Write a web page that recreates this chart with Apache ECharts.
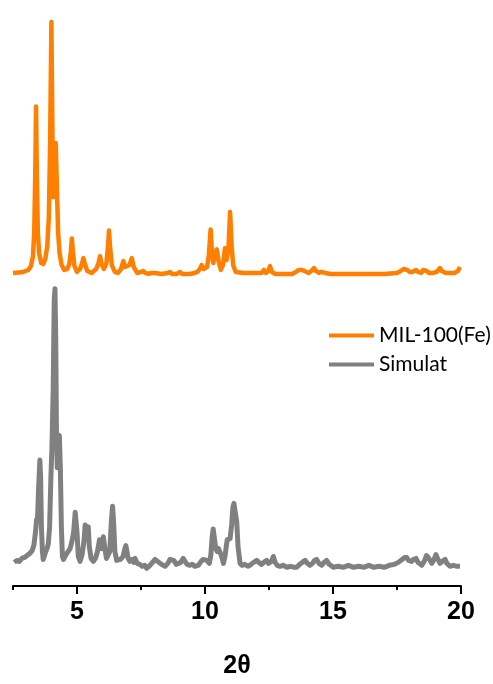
<!DOCTYPE html>
<html>
<head>
<meta charset="utf-8">
<script src="https://cdn.jsdelivr.net/npm/echarts@6/dist/echarts.min.js"></script>
<style>
html,body{margin:0;padding:0;background:#fff;}
#chart{width:493px;height:684px;}
</style>
</head>
<body>
<div id="chart"></div>
<script>
// ---- Data ----
const seriesNames = ["MIL-100(Fe)", "Simulat"];
const xTickLabels = [5, 10, 15, 20];
const xMinorTicks = [2.5, 7.5, 12.5, 17.5];
const ORANGE_OFFSET = 300;

const milX = [2.5,2.9,3.1,3.2,3.28,3.33,3.37,3.40,3.43,3.47,3.52,3.6,3.68,3.76,3.84,3.9,3.95,4.0,4.04,4.07,4.12,4.17,4.21,4.26,4.32,4.4,4.5,4.62,4.7,4.76,4.80,4.84,4.9,5.0,5.12,5.2,5.25,5.3,5.4,5.57,5.75,5.84,5.90,5.96,6.05,6.15,6.21,6.25,6.29,6.36,6.48,6.6,6.72,6.81,6.88,6.94,7.05,7.14,7.22,7.35,7.5,7.58,7.66,7.8,7.9,7.97,8.05,8.3,8.55,8.63,8.71,8.9,9.02,9.1,9.4,9.6,9.7,9.8,9.87,9.95,10.08,10.15,10.22,10.27,10.32,10.38,10.46,10.53,10.62,10.7,10.78,10.84,10.87,10.92,10.98,11.04,11.1,11.2,11.5,11.75,11.82,11.9,12.2,12.3,12.38,12.47,12.54,12.61,12.75,13.0,13.4,13.55,13.65,13.71,13.78,13.88,13.95,14.05,14.15,14.26,14.33,14.45,14.55,14.61,14.7,14.9,15.5,16.2,17.0,17.5,17.65,17.76,17.81,17.9,18.0,18.1,18.24,18.32,18.45,18.52,18.59,18.66,18.75,18.9,19.05,19.12,19.18,19.25,19.4,19.52,19.57,19.65,19.75,19.88,19.96];
const milY = [18,19,21,25,35,60,120,187,120,60,38,28,27,32,45,75,150,273,160,95,120,150,110,60,38,26,21,22,27,40,53,40,25,19,22,28,33,28,20,18,22,28,35,27,22,28,45,61,45,26,19,18,22,30,24,22,26,33,24,18,19,20,18,17,18,19,18,17,18,19,17,17,19,17,17,18,19,22,26,22,24,36,62,40,28,34,42,30,21,26,43,31,30,45,80,45,26,19,18,18,20,18,18,21,18,20,25,19,17,17,17,19,21,23,21,20,19,18,20,23,20,18,19,20,18,17,17,17,17,18,20,22,23,21,19,19,21,19,18,21,23,20,18,18,19,21,23,20,18,18,20,18,18,20,24];

const simX = [2.55,2.65,2.75,2.85,2.95,3.05,3.15,3.25,3.32,3.38,3.42,3.46,3.50,3.55,3.58,3.61,3.65,3.68,3.72,3.78,3.83,3.88,3.93,3.98,4.02,4.07,4.11,4.14,4.17,4.2,4.23,4.27,4.31,4.35,4.39,4.43,4.47,4.53,4.6,4.67,4.73,4.8,4.87,4.93,4.96,5.0,5.05,5.12,5.2,5.27,5.32,5.36,5.41,5.44,5.48,5.55,5.64,5.72,5.8,5.88,5.93,5.97,6.03,6.08,6.15,6.22,6.28,6.34,6.39,6.43,6.48,6.55,6.61,6.7,6.8,6.87,6.91,6.95,7.0,7.07,7.15,7.22,7.27,7.35,7.46,7.55,7.65,7.72,7.85,7.95,8.05,8.11,8.2,8.3,8.44,8.55,8.63,8.7,8.78,8.88,8.95,9.05,9.15,9.22,9.3,9.41,9.5,9.6,9.74,9.85,9.93,10.0,10.07,10.17,10.23,10.28,10.32,10.36,10.42,10.48,10.53,10.59,10.65,10.72,10.78,10.84,10.87,10.93,10.98,11.04,11.09,11.13,11.18,11.24,11.29,11.37,11.45,11.55,11.69,11.8,11.9,12.02,12.1,12.21,12.3,12.41,12.48,12.54,12.6,12.67,12.74,12.82,12.93,13.05,13.2,13.35,13.48,13.58,13.7,13.8,13.91,14.0,14.1,14.2,14.28,14.36,14.45,14.56,14.65,14.75,14.85,15.01,15.2,15.4,15.6,15.8,16.0,16.2,16.4,16.6,16.8,17.0,17.2,17.4,17.55,17.7,17.8,17.88,17.95,18.07,18.15,18.24,18.32,18.47,18.58,18.65,18.69,18.75,18.86,18.95,19.02,19.05,19.1,19.18,19.27,19.38,19.45,19.57,19.7,19.85,19.96];
const simY = [24,26,25,28,29,31,33,36,42,55,67,70,100,128,110,60,35,27,30,35,38,43,60,110,140,200,290,302,250,150,120,140,153,120,60,30,27,29,33,35,38,45,55,75,77,55,30,25,32,45,62,58,57,60,40,28,25,28,35,47,42,38,50,40,28,27,35,65,81,65,35,26,24,27,30,38,41,35,28,25,27,24,28,23,22,20,21,18,21,24,27,28,24,22,20,23,27,29,26,22,21,24,28,25,22,21,22,20,21,25,27,29,26,23,32,50,58,50,38,35,38,37,30,23,30,42,47,45,48,62,80,84,75,65,40,23,21,22,20,22,24,26,24,22,24,26,23,21,25,30,24,21,20,21,19,20,19,19,22,24,26,23,21,23,26,27,23,21,24,26,22,19,20,19,21,19,20,19,21,19,20,19,21,22,24,27,29,29,26,25,27,28,24,21,26,31,33,28,23,27,32,32,27,23,25,27,23,20,21,20,20];

const milData = milX.map((x, i) => [x, milY[i] + ORANGE_OFFSET]);
const simData = simX.map((x, i) => [x, simY[i]]);

const chart = echarts.init(document.getElementById('chart'), null, {renderer: 'canvas'});
const font = 'Liberation Sans, Arial, sans-serif';
chart.setOption({
  animation: false,
  backgroundColor: '#ffffff',
  grid: {left: 13, right: 32, top: 15, bottom: 89, containLabel: false},
  legend: {
    orient: 'vertical',
    left: 324,
    top: 320,
    itemWidth: 45,
    itemHeight: 4,
    itemGap: 8,
    itemTextGap: 7,
    icon: 'rect',
    textStyle: {fontFamily: 'Lato, sans-serif', fontSize: 21, color: '#000'},
    data: seriesNames
  },
  xAxis: [{
    type: 'value', min: 2.5, max: 20,
    name: '2θ', nameLocation: 'middle', nameGap: 68,
    nameTextStyle: {fontFamily: font, fontSize: 25, fontWeight: 'bold', color: '#000'},
    axisLine: {show: true, onZero: false, lineStyle: {color: '#000', width: 2}},
    axisTick: {show: true, inside: false, length: 8, customValues: xTickLabels, lineStyle: {color: '#000', width: 2}},
    axisLabel: {show: true, customValues: xTickLabels, margin: 14, fontFamily: font, fontSize: 25, fontWeight: 'bold', color: '#000'},
    splitLine: {show: false}
  }, {
    type: 'value', min: 2.5, max: 20, position: 'bottom',
    axisLine: {show: false, onZero: false},
    axisTick: {show: true, length: 4, customValues: xMinorTicks, lineStyle: {color: '#000', width: 2}},
    axisLabel: {show: false},
    splitLine: {show: false}
  }],
  yAxis: {type: 'value', min: 0, max: 580, show: false},
  series: [{
    name: seriesNames[0], type: 'line', data: milData, xAxisIndex: 0,
    showSymbol: false, symbol: 'none',
    lineStyle: {color: '#ff8000', width: 4.5, join: 'round'},
    itemStyle: {color: '#ff8000'}
  }, {
    name: seriesNames[1], type: 'line', data: simData, xAxisIndex: 0,
    showSymbol: false, symbol: 'none',
    lineStyle: {color: '#808080', width: 5, join: 'round'},
    itemStyle: {color: '#808080'}
  }]
});
</script>
</body>
</html>
